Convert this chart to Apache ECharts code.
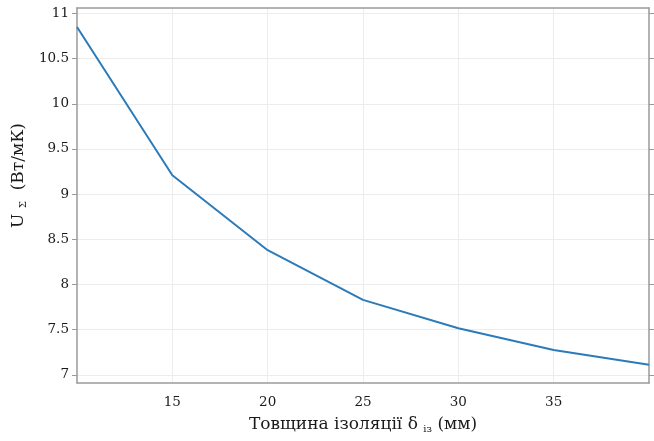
<!DOCTYPE html>
<html><head><meta charset="utf-8">
<script src="https://cdn.jsdelivr.net/npm/echarts@6/dist/echarts.min.js"></script>
<style>html,body{margin:0;padding:0;background:#fff}#c{width:654px;height:441px}</style>
</head><body><div id="c"></div>
<script>
const thickness = [10, 15, 20, 25, 30, 35, 40];
const uSum = [10.85, 9.21, 8.38, 7.83, 7.515, 7.275, 7.113];
const xTicks = [15, 20, 25, 30, 35];
const yTicks = [7, 7.5, 8, 8.5, 9, 9.5, 10, 10.5, 11];

const FONT = 'DejaVu Serif';
const chart = echarts.init(document.getElementById('c'), null, {renderer: 'canvas'});
const axisLine = {show: true, lineStyle: {color: '#9a9a9a', width: 1.5}};
chart.setOption({
  animation: false,
  grid: {left: 77, right: 5, top: 8, bottom: 58},
  xAxis: [{
    type: 'value', min: 10, max: 40, position: 'bottom',
    axisLine: axisLine,
    axisTick: {show: false, customValues: xTicks},
    axisLabel: {customValues: xTicks, color: '#1a1a1a', fontFamily: FONT, fontSize: 13.5, margin: 12},
    splitLine: {show: true, lineStyle: {color: '#ececec', width: 1}},
    name: '{a|Товщина ізоляції δ }{s|із}{a| (мм)}',
    nameLocation: 'middle', nameGap: 33,
    nameTextStyle: {rich: {
      a: {fontFamily: FONT, fontSize: 17, color: '#1a1a1a'},
      s: {fontFamily: FONT, fontSize: 10, color: '#1a1a1a', padding: [8, 0, 0, 0]}
    }}
  }, {
    type: 'value', min: 10, max: 40, position: 'top',
    axisLine: axisLine, axisTick: {show: false}, axisLabel: {show: false}, splitLine: {show: false}
  }],
  yAxis: [{
    type: 'value', min: 6.91, max: 11.06, position: 'left',
    axisLine: axisLine,
    axisTick: {show: true, customValues: yTicks, length: 5, lineStyle: {color: '#9a9a9a', width: 1}},
    axisLabel: {customValues: yTicks, color: '#1a1a1a', fontFamily: FONT, fontSize: 13.5, margin: 8},
    splitLine: {show: true, lineStyle: {color: '#ececec', width: 1}},
    name: '{a|U }{s|Σ}{a|  (Вт/мК)}',
    nameLocation: 'middle', nameGap: 46, nameRotate: 90,
    nameTextStyle: {padding: [0, 0, 0, 40], rich: {
      a: {fontFamily: FONT, fontSize: 17, color: '#1a1a1a'},
      s: {fontFamily: FONT, fontSize: 10, color: '#1a1a1a', padding: [8, 0, 0, 0]}
    }}
  }, {
    type: 'value', min: 6.91, max: 11.06, position: 'right',
    axisLine: axisLine,
    axisTick: {show: true, customValues: yTicks, length: 5, lineStyle: {color: '#9a9a9a', width: 1}},
    axisLabel: {show: false, customValues: yTicks}, splitLine: {show: false}
  }],
  series: [{
    type: 'line', data: thickness.map((x, i) => [x, uSum[i]]),
    showSymbol: false, lineStyle: {color: '#2b7bba', width: 2}
  }]
});
</script></body></html>
